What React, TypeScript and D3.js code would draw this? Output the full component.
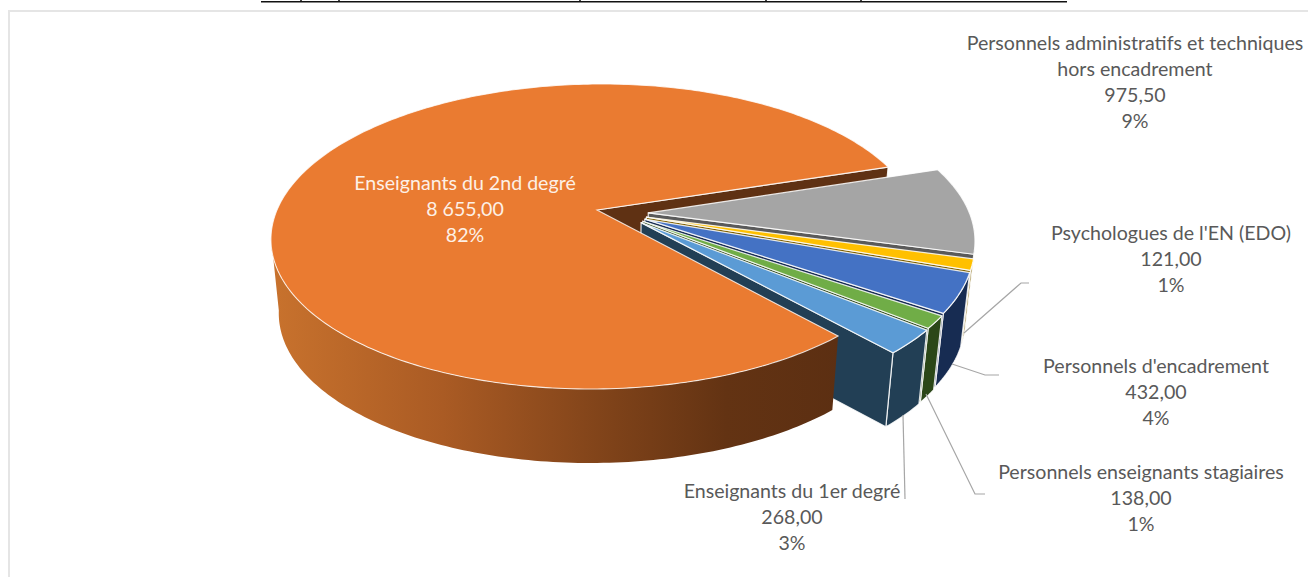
import React from "react";
import * as d3 from "d3";

const categories = [
  "Personnels administratifs et techniques|hors encadrement",
  "Psychologues de l'EN (EDO)",
  "Personnels d'encadrement",
  "Personnels enseignants stagiaires",
  "Enseignants du 1er degré",
  "Enseignants du 2nd degré",
];
const values = [975.5, 121, 432, 138, 268, 8655];
const valueLabels = ["975,50", "121,00", "432,00", "138,00", "268,00", "8 655,00"];
const percentLabels = ["9%", "1%", "4%", "1%", "3%", "82%"];
const topColors = ["#a5a5a5", "#ffc000", "#4472c4", "#70ad47", "#5b9bd5", "#ea7b31"];
const wallColors = ["#5a5a5a", "#7f6000", "#172c52", "#2b4718", "#223f55", "#5f3113"];
const labelCenters: [number, number][] = [
  [1135, 49.5], [1171, 239.5], [1156, 372.5], [1141, 478.5], [792, 497.5], [465, 189.5],
];
const leaders: [number, number][][] = [
  [[964, 333], [1021, 283], [1029, 283]],
  [[952, 364], [985, 375], [999, 375]],
  [[926, 394], [975, 494], [985, 494]],
  [[903, 415], [905, 499]],
];
const titleMarks = [300, 338, 579, 765, 860];

const startDeg = 72.2; // d3.pie angle: 0 = top, clockwise
const explode = 0.161;
const boostY = -0.174;
const gamma = Math.sqrt(1 - boostY * boostY);
const sx = d3.scaleLinear().domain([-1, 1]).range([271, 921]);
const sy = d3.scaleLinear().domain([-1, 1]).range([84, 389]);
const tilt = -0.04;
const depth = 74;

type P = [number, number];

function project(qx: number, qy: number): P {
  const den = 1 + boostY * qy;
  const u = (gamma * qx) / den;
  const v = (boostY + qy) / den;
  const y = sy(v);
  return [sx(u) + tilt * (y - sy(0)), y];
}
const down = ([x, y]: P): P => [x - 0.024 * (x - 597), y + depth];
const line = d3.line<P>().x((d) => d[0]).y((d) => d[1]);
const closed = (pts: P[]) => (line(pts) as string) + "Z";

function arcPts(a0: number, a1: number, ox: number, oy: number): P[] {
  const n = Math.max(4, Math.ceil(Math.abs(a1 - a0) * 60));
  return d3.range(n + 1).map((i) => {
    const a = a0 + ((a1 - a0) * i) / n - Math.PI / 2;
    return project(ox + Math.cos(a), oy + Math.sin(a));
  });
}

const pie = d3
  .pie<number>()
  .sort(null)
  .startAngle((startDeg * Math.PI) / 180)
  .endAngle((startDeg * Math.PI) / 180 + 2 * Math.PI);
const arcs = pie(values);

const edge = { stroke: "#ffffff", strokeWidth: 1.2, strokeOpacity: 0.85, strokeLinejoin: "round" as const };

function Slice({ i }: { i: number }) {
  const a = arcs[i];
  const mid = (a.startAngle + a.endAngle) / 2 - Math.PI / 2;
  const dir = (7.7 * Math.PI) / 180 + mid * 0.55;
  const ox = explode * Math.cos(dir);
  const oy = explode * Math.sin(dir);
  const apex = project(ox, oy);
  const rim = arcPts(a.startAngle, a.endAngle, ox, oy);
  const last = rim[rim.length - 1];
  return (
    <g>
      <path d={closed([...rim, ...rim.map(down).reverse()])} fill={wallColors[i]} {...edge} />
      <path d={closed([apex, last, down(last), down(apex)])} fill={wallColors[i]} {...edge} />
      <path d={closed([apex, ...rim])} fill={topColors[i]} {...edge} />
    </g>
  );
}

function Label({ i }: { i: number }) {
  const [x, y] = labelCenters[i];
  const lines = [...categories[i].split("|"), valueLabels[i], percentLabels[i]];
  return (
    <text
      x={x}
      y={y}
      textAnchor="middle"
      fontFamily="Lato, sans-serif"
      fontSize={19.6}
      fill={i === 5 ? "#fdf0e6" : "#595959"}
    >
      {lines.map((t, k) => (
        <tspan key={k} x={x} y={y + k * 26}>
          {t}
        </tspan>
      ))}
    </text>
  );
}

export default function App() {
  const o = arcs[5];
  const apex = project(0, 0);
  const rim = arcPts(o.startAngle, o.endAngle, 0, 0);
  const rimStart = rim[rim.length - 1]; // back cut edge, at the end of the big slice
  // outer wall: from the front cut edge round to the leftmost point
  const wallEnd = o.startAngle + ((170 - 48) * Math.PI) / 180;
  const wallRim = arcPts(o.startAngle, wallEnd, 0, 0);
  return (
    <svg
      width={1308}
      height={577}
      viewBox="0 0 1308 577"
      style={{ position: "fixed", left: 0, top: 0, display: "block", background: "#fff" }}
    >
      <defs>
        <linearGradient id="wall" gradientUnits="userSpaceOnUse" x1={272} x2={840} y1={0} y2={0}>
          <stop offset="0" stopColor="#c8722d" />
          <stop offset="0.3" stopColor="#aa5b24" />
          <stop offset="0.6" stopColor="#7e4219" />
          <stop offset="0.8" stopColor="#633313" />
          <stop offset="1" stopColor="#5c2f12" />
        </linearGradient>
      </defs>
      <rect x={8} y={10} width={1300} height={2} fill="#e5e5e5" />
      <rect x={8} y={10} width={2} height={567} fill="#e5e5e5" />
      <rect x={261} y={1} width={806} height={1.5} fill="#111111" />
      {titleMarks.map((x) => (
        <rect key={x} x={x} y={0} width={2} height={1} fill="#444444" />
      ))}

      <path d={closed([apex, rimStart, down(rimStart), down(apex)])} fill={wallColors[5]} {...edge} />
      {[0, 1, 2, 3, 4].map((i) => (
        <Slice key={i} i={i} />
      ))}
      <path
        d={closed([...wallRim, ...wallRim.map(down).reverse()])}
        fill="url(#wall)"
        stroke="none"
      />
      <path d={closed([apex, ...rim])} fill={topColors[5]} stroke="#ffffff" strokeWidth={1.1} strokeOpacity={0.8} />

      {leaders.map((pts, i) => (
        <path key={i} d={line(pts as P[]) as string} fill="none" stroke="#a6a6a6" strokeWidth={1.2} />
      ))}
      {categories.map((_, i) => (
        <Label key={i} i={i} />
      ))}
    </svg>
  );
}
